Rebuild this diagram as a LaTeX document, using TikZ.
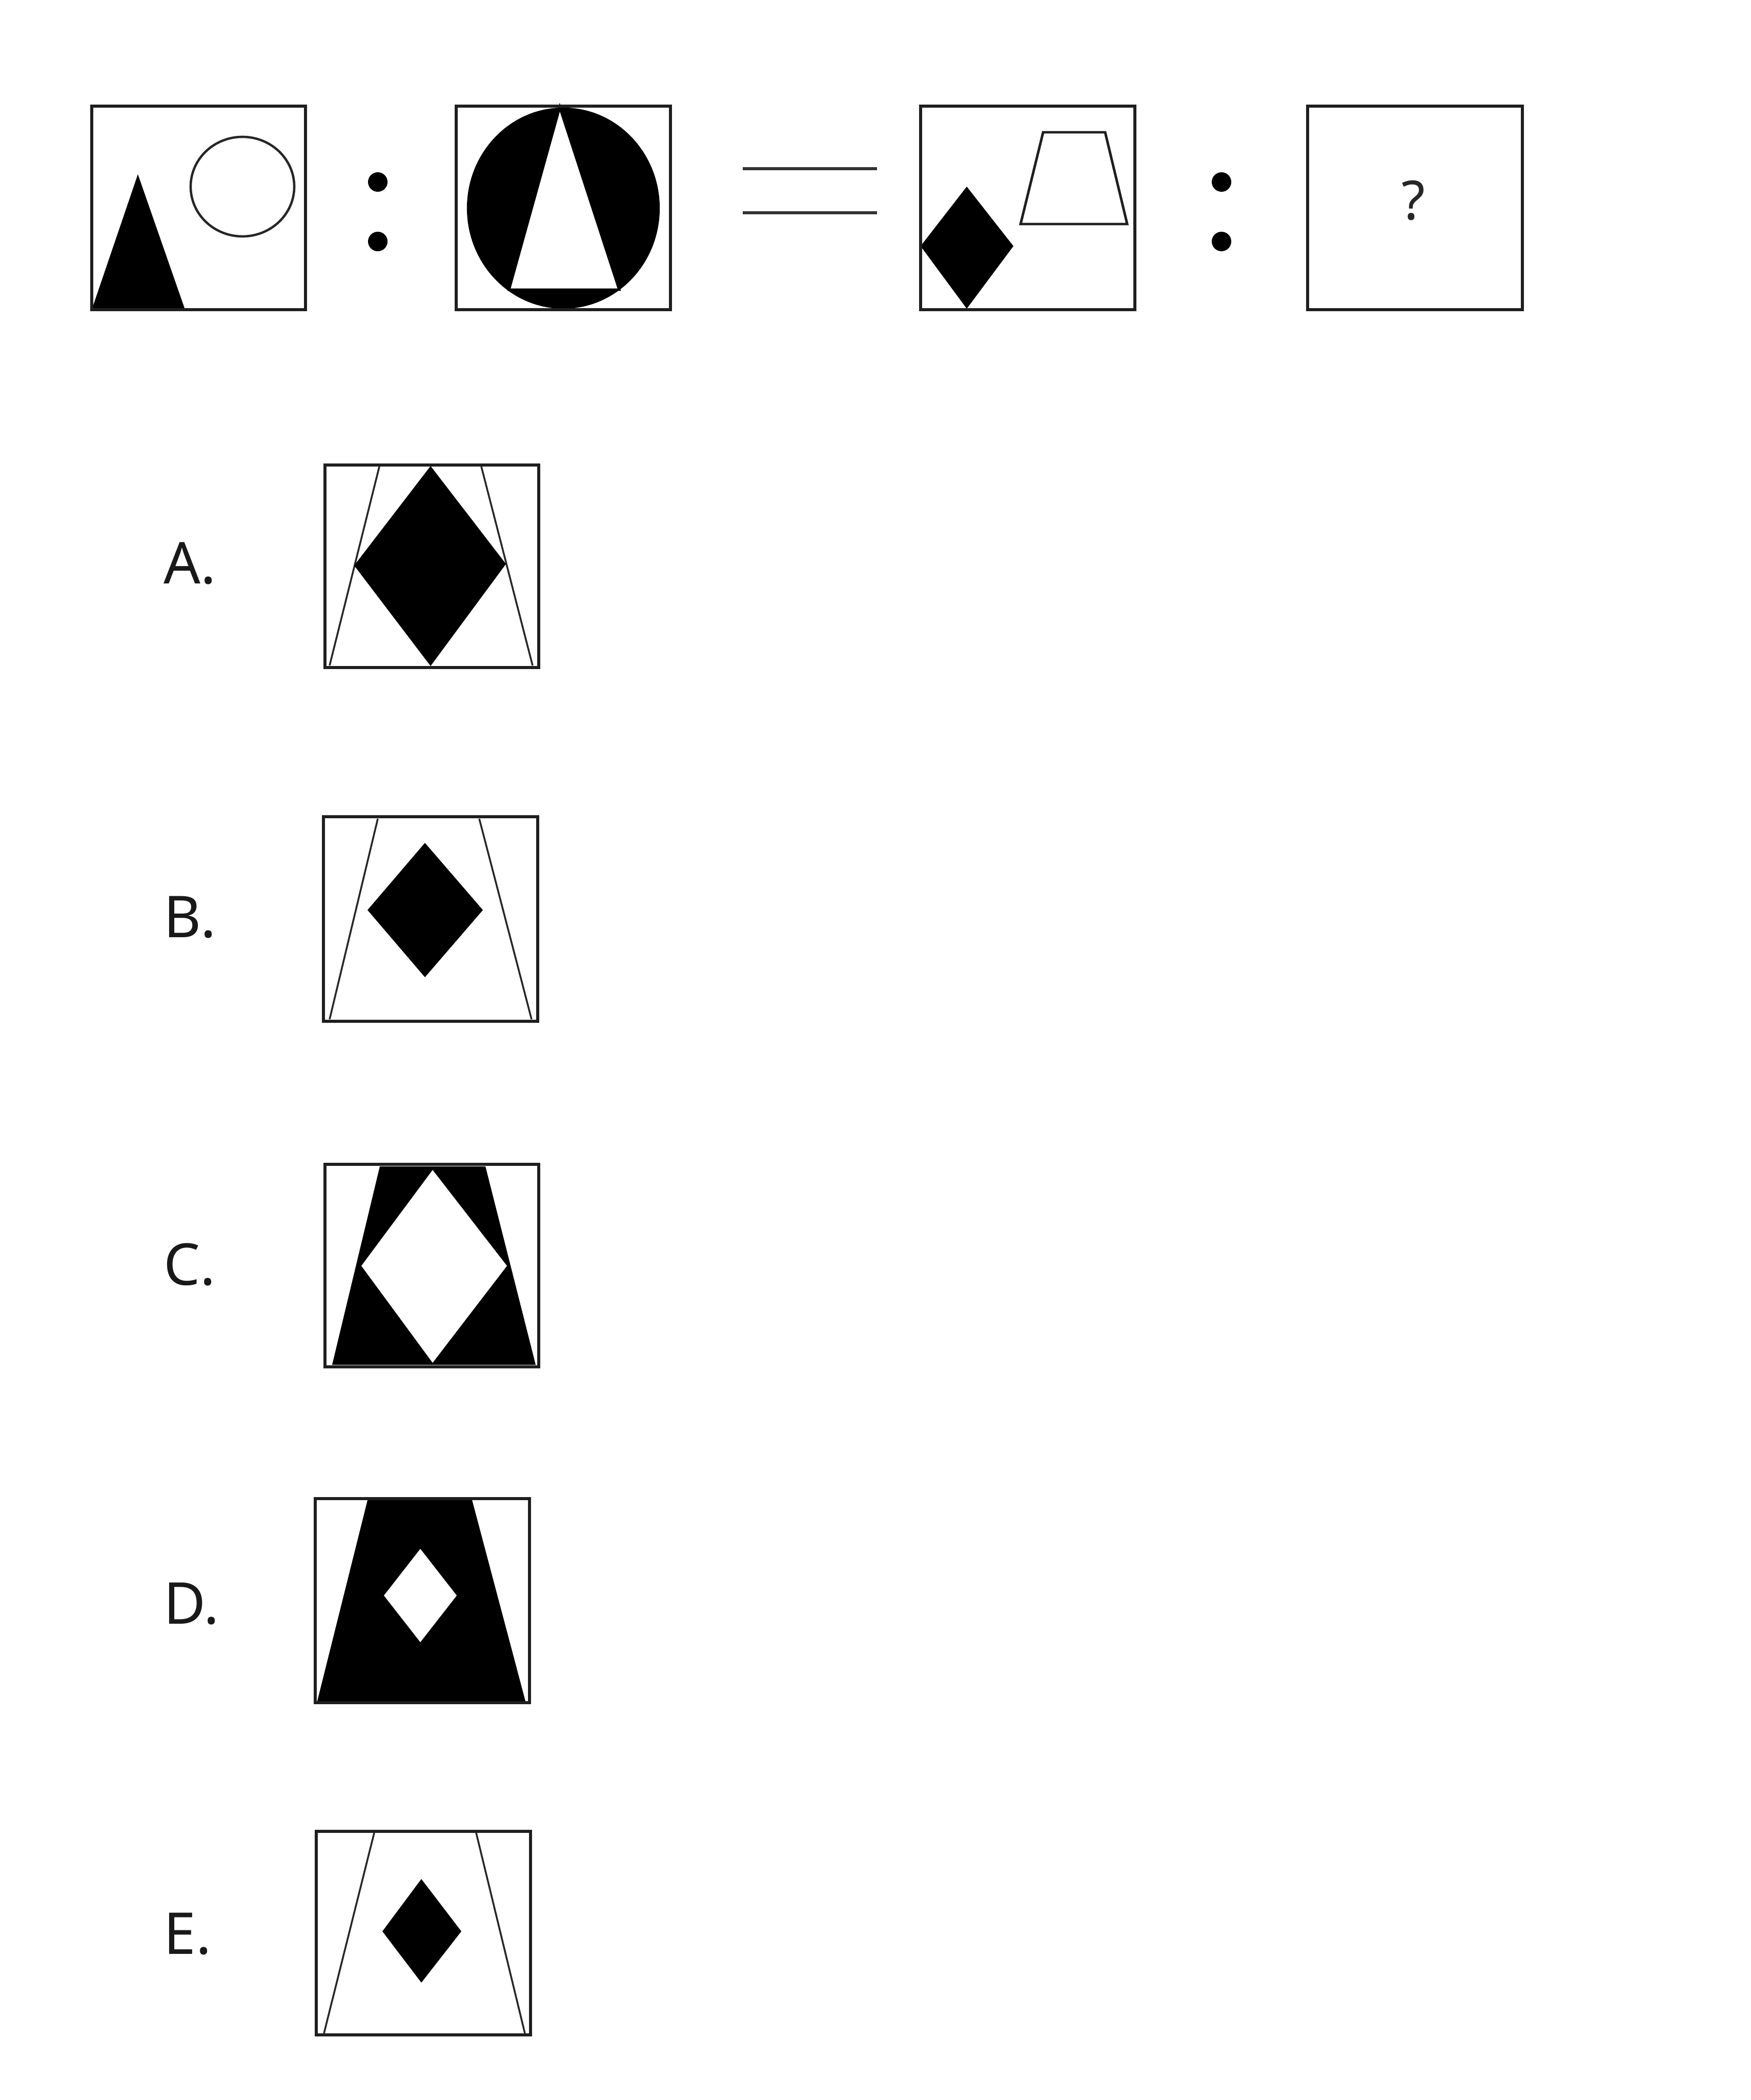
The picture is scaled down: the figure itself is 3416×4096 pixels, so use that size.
\documentclass[tikz,border=0pt]{standalone}
\usepackage{fontspec}
\setmainfont{Noto Sans}
\begin{document}
\begin{tikzpicture}[x=0.01cm,y=-0.01cm,
  frame/.style={draw=black!88, line width=1.9pt},
  thinline/.style={draw=black!85, line width=1pt},
  blk/.style={fill=black},
  lbl/.style={font=\fontsize{32}{36}\selectfont, anchor=base west, inner sep=0pt, text=black!90},
  dotc/.style={fill=black}]
\fill[white] (0,0) rectangle (3416,4096);
\useasboundingbox (0,0) rectangle (3416,4096);

% ---------- top row ----------
% box 1
\fill[blk] (179,604) -- (269,340) -- (361,604) -- cycle;
\draw[black!85, line width=1.3pt] (473,364) ellipse [x radius=1.01cm, y radius=0.97cm];
\draw[frame] (179,207) rectangle (596,604);

% colon 1
\fill[dotc] (737,355) circle [radius=0.19cm];
\fill[dotc] (737,471) circle [radius=0.19cm];

% box 2
\fill[blk] (1099,406) ellipse [x radius=1.88cm, y radius=1.96cm];
\filldraw[fill=white, draw=black, line width=1.4pt] (1092,209) -- (1208,565) -- (993,565) -- cycle;
\draw[frame] (890,207) rectangle (1308,604);

% equals
\draw[black!80, line width=1.5pt] (1449,329) -- (1711,329);
\draw[black!80, line width=1.5pt] (1449,415) -- (1711,415);

% box 3
\fill[blk] (1886,364) -- (1977,480) -- (1886,602) -- (1796,480) -- cycle;
\draw[black!88, line width=1.4pt] (2035,258) -- (2156,258) -- (2199,437) -- (1991,437) -- cycle;
\draw[frame] (1796,207) rectangle (2214,604);

% colon 2
\fill[dotc] (2383,355) circle [radius=0.19cm];
\fill[dotc] (2383,471) circle [radius=0.19cm];

% box 4
\draw[frame] (2551,207) rectangle (2970,604);
\node[font=\fontsize{30}{34}\selectfont, text=black!85, inner sep=0pt] (q) at (2757,391) {?};

% ---------- options ----------
% A
\node[lbl] (la) at (319,1138) {A.};
\draw[thinline] (740,910) -- (643,1298);
\draw[thinline] (939,910) -- (1039,1298);
\fill[blk] (840,909) -- (987,1100) -- (840,1299) -- (691,1103) -- cycle;
\draw[frame] (634,907) rectangle (1051,1302);

% B
\node[lbl] (lb) at (319,1828) {B.};
\draw[thinline] (737,1597) -- (643,1988);
\draw[thinline] (935,1597) -- (1037,1988);
\fill[blk] (829,1644) -- (942,1775) -- (829,1906) -- (717,1775) -- cycle;
\draw[frame] (631,1593) rectangle (1049,1992);

% C
\node[lbl] (lc) at (319,2506) {C.};
\fill[blk] (741,2275) -- (947,2275) -- (1045,2662) -- (648,2662) -- cycle;
\fill[white] (844,2282) -- (989,2469) -- (844,2658) -- (705,2469) -- cycle;
\draw[frame] (634,2271) rectangle (1051,2666);

% D
\node[lbl] (ld) at (319,3167) {D.};
\fill[blk] (717,2926) -- (921,2926) -- (1025,3318) -- (619,3318) -- cycle;
\fill[white] (820,3021) -- (891,3112) -- (820,3203) -- (749,3112) -- cycle;
\draw[frame] (615,2923) rectangle (1033,3321);

% E
\node[lbl] (le) at (319,3811) {E.};
\draw[thinline] (730,3575) -- (632,3966);
\draw[thinline] (929,3575) -- (1024,3966);
\fill[blk] (822,3665) -- (900,3767) -- (822,3867) -- (746,3767) -- cycle;
\draw[frame] (617,3572) rectangle (1035,3969);
\end{tikzpicture}
\end{document}
